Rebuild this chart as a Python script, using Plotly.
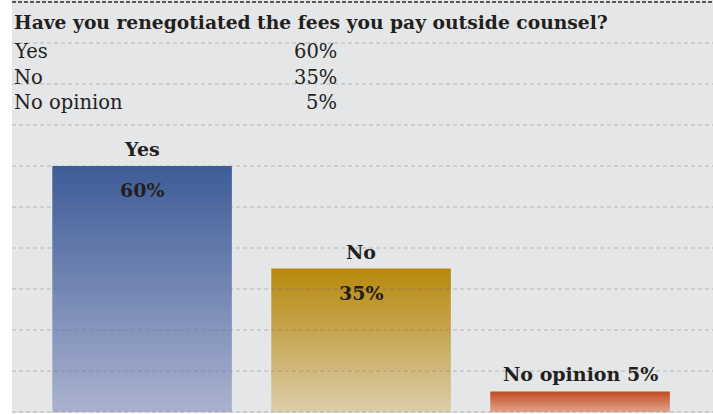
import plotly.graph_objects as go

# Survey responses
question = "Have you renegotiated the fees you pay outside counsel?"
answers = ["Yes", "No", "No opinion"]
shares = [60, 35, 5]

# Gradient colours per bar: (bottom, top)
bar_bottom = ["#aab2cf", "#dcccaa", "#e4a48a"]
bar_top = ["#3e5c98", "#b6880b", "#bf4a22"]

ink = "#231f20"
panel = "#e5e6e8"
serif = "DejaVu Serif"
half_width = 0.41

fig = go.Figure()

# Bars as filled outlines so each can carry a vertical gradient
for i, (name, v) in enumerate(zip(answers, shares)):
    xs = [i - half_width, i + half_width, i + half_width, i - half_width, i - half_width]
    ys = [0, 0, v, v, 0]
    fig.add_trace(go.Scatter(
        x=xs, y=ys, mode="lines", fill="toself",
        line=dict(width=0, color=bar_top[i]),
        fillgradient=dict(type="vertical", start=0, stop=v,
                          colorscale=[[0, bar_bottom[i]], [1, bar_top[i]]]),
        hoverinfo="skip", showlegend=False, name=name,
    ))

# Dashed rules over the whole panel, every 10 points
shapes = []
for g in range(0, 100, 10):
    shapes.append(dict(type="line", xref="paper", x0=0, x1=1, yref="y", y0=g, y1=g,
                       layer="above",
                       line=dict(color="rgba(110,110,110,0.4)", width=1.1, dash="4px,3px")))
shapes.append(dict(type="line", xref="paper", x0=0, x1=1, yref="y", y0=100, y1=100,
                   layer="above", line=dict(color="#2a2a2a", width=1.6, dash="4px,2px")))

annotations = []
# Header: question and table of results
annotations.append(dict(text="<b>" + question + "</b>", xref="paper", yref="y", x=0, y=95.2,
                        xanchor="left", yanchor="middle", showarrow=False,
                        font=dict(family=serif, size=18.7, color=ink)))
row_y = [87.9, 81.5, 75.4]
for name, v, ry in zip(answers, shares, row_y):
    annotations.append(dict(text=name, xref="paper", yref="y", x=0, y=ry,
                            xanchor="left", yanchor="middle", showarrow=False,
                            font=dict(family=serif, size=19.5, color=ink)))
    annotations.append(dict(text=f"{v}%", xref="paper", yref="y", x=0.4665, y=ry,
                            xanchor="right", yanchor="middle", showarrow=False,
                            font=dict(family=serif, size=19.5, color=ink)))

# Labels on the bars
label_font = dict(family=serif, size=19, color=ink)
for i, (name, v) in enumerate(zip(answers, shares)):
    if v >= 10:
        annotations.append(dict(text=f"<b>{name}</b>", x=i, y=v, xref="x", yref="y",
                                yanchor="middle", yshift=17, showarrow=False, font=label_font))
        annotations.append(dict(text=f"<b>{v}%</b>", x=i, y=v, xref="x", yref="y",
                                yanchor="middle", yshift=-24, showarrow=False, font=label_font))
    else:
        annotations.append(dict(text=f"<b>{name} {v}%</b>", x=i, y=v, xref="x", yref="y",
                                yanchor="middle", yshift=17, showarrow=False, font=label_font))

fig.update_layout(
    width=713, height=414,
    margin=dict(l=12, r=0, t=0, b=1),
    paper_bgcolor="white",
    plot_bgcolor=panel,
    shapes=shapes,
    annotations=annotations,
    xaxis=dict(range=[-0.594, 2.607], showgrid=False, zeroline=False,
               showticklabels=False, fixedrange=True),
    yaxis=dict(range=[-0.25, 100.5], showgrid=False, zeroline=False,
               showticklabels=False, fixedrange=True),
)

fig.write_html("out.html")
